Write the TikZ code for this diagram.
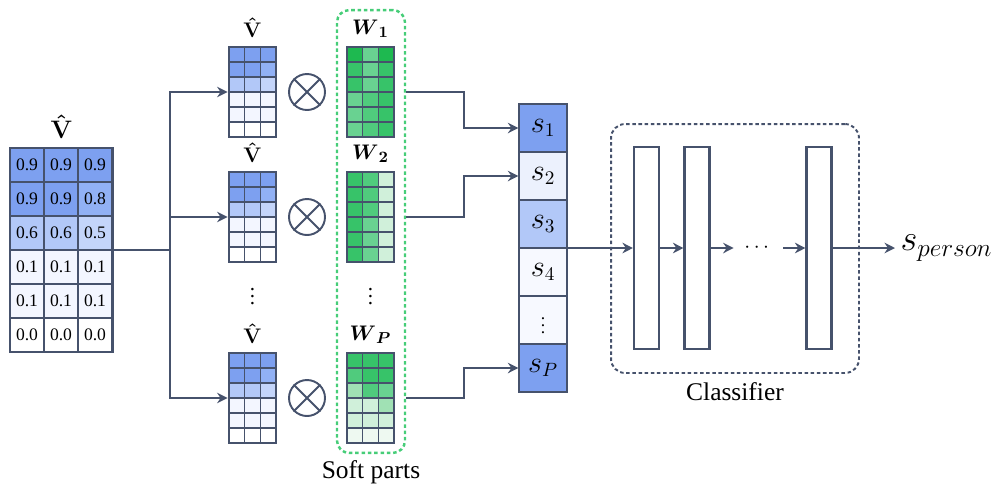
\documentclass[tikz,border=0pt]{standalone}
\usepackage{fontspec}
\setmainfont{Liberation Serif}
\usepackage{amsmath,amsfonts}
\usepackage{tikz}
\usetikzlibrary{arrows.meta,calc,positioning}

\definecolor{edge}{RGB}{70,82,108}
\definecolor{vb9}{RGB}{125,160,240}
\definecolor{vb8}{RGB}{145,177,245}
\definecolor{vb6}{RGB}{178,200,248}
\definecolor{vb5}{RGB}{196,213,250}
\definecolor{vb1}{RGB}{243,246,255}
\definecolor{vb0}{RGB}{255,255,255}
\definecolor{sb2}{RGB}{236,241,253}
\definecolor{sb4}{RGB}{247,249,255}
\definecolor{gn9}{RGB}{30,185,80}
\definecolor{gn8}{RGB}{55,195,105}
\definecolor{gn7}{RGB}{80,203,125}
\definecolor{gn6}{RGB}{105,210,145}
\definecolor{gn3}{RGB}{160,225,180}
\definecolor{gn2}{RGB}{208,240,218}
\definecolor{gn1}{RGB}{238,249,241}
\definecolor{softgreen}{RGB}{70,205,120}

\begin{document}
\begin{tikzpicture}[x=0.02cm, y=-0.02cm,
    cell/.style={draw=edge, line width=0.7pt, inner sep=0pt},
    frame/.style={draw=edge, line width=1.6pt, inner sep=0pt},
    conn/.style={draw=edge, line width=1.1pt},
    arr/.style={conn, -{Stealth[length=6pt, width=6pt, inset=2pt]}},
    layer/.style={frame, line width=1.2pt, minimum width=0.5cm, minimum height=4.04cm}]

    \useasboundingbox (0,0) rectangle (1000,495);

    \foreach \row [count=\i from 0] in {{vb9/0.9,vb9/0.9,vb9/0.9}, {vb9/0.9,vb9/0.9,vb8/0.8}, {vb6/0.6,vb6/0.6,vb5/0.5},
        {vb1/0.1,vb1/0.1,vb1/0.1}, {vb1/0.1,vb1/0.1,vb1/0.1}, {vb0/0.0,vb0/0.0,vb0/0.0}} {
      \foreach \c/\v [count=\j from 0] in \row {
        \node[cell, fill=\c, minimum size=0.68cm, font=\fontsize{10}{12}\selectfont] (N\i\j) at ({27+34*\j},{165+34*\i}) {\v};
      }
    }
    \node[frame, minimum width=2.06cm, minimum height=4.08cm] (bigV) at (61.5,250) {};
    \node[above=1pt of bigV, font=\fontsize{14}{16}\selectfont] (bigVlab) {$\boldsymbol{\hat{\mathbf{V}}}$};

    \foreach \name/\yo in {V1/47, V2/172, V3/353} {
      \foreach \row [count=\i from 0] in {{vb9,vb9,vb9}, {vb9,vb9,vb8}, {vb6,vb6,vb5}, {vb1,vb1,vb1}, {vb1,vb1,vb1}, {vb0,vb0,vb0}} {
        \foreach \c [count=\j from 0] in \row {
          \draw[cell, fill=\c] ({229+15.667*\j},{\yo+15*\i}) rectangle ++(15.667,15);
        }
      }
      \node[frame, minimum width=0.94cm, minimum height=1.8cm] (\name) at (252.5,{\yo+45}) {};
      \node[above=1pt of \name, font=\fontsize{13}{15}\selectfont] (\name lab) {$\boldsymbol{\hat{\mathbf{V}}}$};
      \node[circle, draw=edge, line width=1.1pt, minimum size=0.72cm] (O\name) at (307,{\yo+45}) {};
      \draw[edge, line width=1.1pt] (O\name.north west) -- (O\name.south east) (O\name.north east) -- (O\name.south west);
    }

    \foreach \row [count=\i from 0] in {{gn9,gn6,gn9}, {gn8,gn6,gn8}, {gn8,gn6,gn8}, {gn6,gn7,gn8}, {gn6,gn7,gn8}, {gn6,gn7,gn8}} {
      \foreach \c [count=\j from 0] in \row {
        \draw[cell, fill=\c] ({347+15.667*\j},{47+15*\i}) rectangle ++(15.667,15);
      }
    }
    \foreach \row [count=\i from 0] in {{gn8,gn7,gn2}, {gn8,gn7,gn2}, {gn8,gn7,gn2}, {gn8,gn6,gn2}, {gn8,gn6,gn2}, {gn8,gn6,gn2}} {
      \foreach \c [count=\j from 0] in \row {
        \draw[cell, fill=\c] ({347+15.667*\j},{172+15*\i}) rectangle ++(15.667,15);
      }
    }
    \foreach \row [count=\i from 0] in {{gn8,gn8,gn8}, {gn7,gn8,gn8}, {gn3,gn7,gn6}, {gn2,gn2,gn3}, {gn2,gn2,gn2}, {gn1,gn1,gn1}} {
      \foreach \c [count=\j from 0] in \row {
        \draw[cell, fill=\c] ({347+15.667*\j},{353+15*\i}) rectangle ++(15.667,15);
      }
    }
    \foreach \name/\yo/\sub in {W1/47/1, W2/172/2, W3/353/P} {
      \node[frame, minimum width=0.94cm, minimum height=1.8cm] (\name) at (370.5,{\yo+45}) {};
      \node[above=1pt of \name, font=\fontsize{13}{15}\selectfont] (\name lab) {$\boldsymbol{W}_{\boldsymbol{\sub}}$};
    }

    \node[font=\fontsize{12}{14}\selectfont] (Vdots) at (252.5,291) {$\vdots$};
    \node[font=\fontsize{12}{14}\selectfont] (Wdots) at (370.5,291) {$\vdots$};

    \node[draw=softgreen, line width=1.4pt, dash pattern=on 2pt off 1.6pt, rounded corners=7pt,
        minimum width=1.36cm, minimum height=8.86cm] (soft) at (371,231.5) {};
    \node[font=\fontsize{14.5}{16}\selectfont] (softlab) at (371,472) {Soft parts};

    \coordinate (split) at (170,250);
    \draw[conn] (bigV.east) -- (split);
    \foreach \name in {V1, V2, V3} {
      \draw[arr] (split) |- (\name.west);
    }

    \foreach \k/\c/\t in {1/vb9/s_1, 2/sb2/s_2, 3/vb6/s_3, 4/sb4/s_4, 6/vb9/s_P} {
      \node[cell, fill=\c, minimum size=0.96cm, font=\fontsize{16}{18}\selectfont] (S\k) at (543,{80+48*\k}) {$\t$};
    }
    \node[cell, fill=sb4, minimum size=0.96cm, font=\fontsize{10}{12}\selectfont] (S5) at (543,320) {$\vdots$};
    \node[frame, minimum width=0.96cm, minimum height=5.76cm] (Svec) at (543,248) {};

    \draw[arr] (W1.east -| soft.east) -- ++(58,0) |- (S1.west);
    \draw[arr] (W2.east -| soft.east) -- ++(58,0) |- (S2.west);
    \draw[arr] (W3.east -| soft.east) -- ++(58,0) |- (S6.west);

    \node[draw=edge, line width=1.1pt, dash pattern=on 2pt off 1.5pt, rounded corners=8pt,
        minimum width=4.96cm, minimum height=4.98cm] (cls) at (735,248.5) {};
    \node[font=\fontsize{14.5}{16}\selectfont] (clslab) at (735,392) {Classifier};

    \node[layer] (L1) at (646.5,248) {};
    \node[layer] (L2) at (697,248) {};
    \node[layer] (L3) at (819,248) {};
    \node[minimum width=0.98cm, inner sep=0pt, font=\fontsize{12}{14}\selectfont] (Ldots) at (758.5,248) {$\cdots$};
    \node[anchor=west, inner sep=3pt, font=\fontsize{20}{24}\selectfont] (out) at (895,248) {$s_{person}$};

    \draw[arr] (Svec.east) -- (L1.west);
    \draw[arr] (L1.east) -- (L2.west);
    \draw[arr] (L2.east) -- (Ldots.west);
    \draw[arr] (Ldots.east) -- (L3.west);
    \draw[arr] (L3.east) -- (out.west);

  \end{tikzpicture}
\end{document}
